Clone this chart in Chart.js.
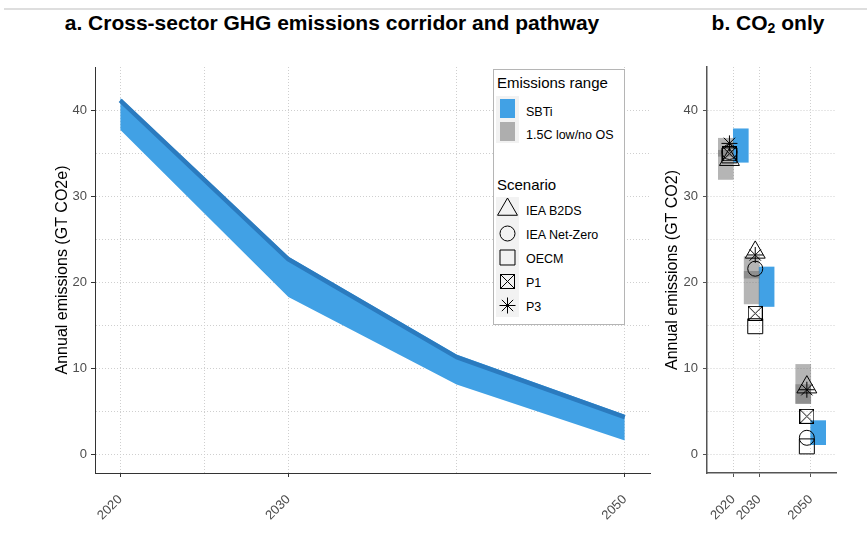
<!DOCTYPE html>
<html lang="en">
<head>
<meta charset="utf-8">
<title>Cross-sector GHG emissions corridor and pathway</title>
<script src="https://cdn.jsdelivr.net/npm/chart.js@4.4.1/dist/chart.umd.min.js"></script>
<style>
  html, body { margin: 0; padding: 0; background: #ffffff; }
  #figure { position: relative; width: 867px; height: 544px; overflow: hidden;
            font-family: "Liberation Sans", Arial, Helvetica, sans-serif; color: #000; }
  #rule { position: absolute; left: 4px; right: 0; top: 8px; height: 2px; background: #dedede; }
  .panel-title { position: absolute; top: 11px; font-size: 21px; font-weight: bold; line-height: 24px;
                 white-space: nowrap; transform: translateX(-50%); }
  .panel-title sub { font-size: 14px; vertical-align: -3px; line-height: 0; }
  canvas { position: absolute; top: 0; }
  #legend { position: absolute; left: 493px; top: 69px; width: 130px; height: 254px;
            border: 1px solid #b5b5b5; background: #fff; }
  #legend .lg-title { position: absolute; left: 3px; font-size: 15px; line-height: 18px; white-space: nowrap; }
  #legend .lg-key { position: absolute; left: 2px; }
  #legend .lg-label { position: absolute; left: 32px; font-size: 12.5px; line-height: 16px; white-space: nowrap; }
</style>
</head>
<body>
<div id="figure">
  <div id="rule"></div>
  <div class="panel-title" style="left:332px">a. Cross-sector GHG emissions corridor and pathway</div>
  <div class="panel-title" style="left:768px">b. CO<sub>2</sub> only</div>
  <canvas id="corridor" width="658" height="544" style="left:0"></canvas>
  <canvas id="co2" width="209" height="544" style="left:658px"></canvas>
  <div id="legend"></div>
</div>
<script>
// ---- Panel a: cross-sector GHG corridor and pathway (GT CO2e) ----
const pathwayYears = [2020, 2030, 2040, 2050];
const corridorLow  = [37.8, 18.3, 8.1, 1.6];
const corridorHigh = [41.5, 23.0, 11.6, 4.6];
const pathway      = [41.2, 22.7, 11.3, 4.3];

// ---- Panel b: CO2-only ranges and scenario values (GT CO2) ----
const rangeYears = [2020, 2030, 2050];
const rangeNames = ['SBTi', '1.5C low/no OS'];
const sbtiLow  = [34.0, 17.2, 1.1];
const sbtiHigh = [37.9, 21.8, 3.9];
// two overlapping 1.5C low/no-overshoot ranges (overlap shows darker)
const lowNoOsALow  = [32.0, 17.5, 5.9];
const lowNoOsAHigh = [35.4, 21.3, 8.1];
const lowNoOsBLow  = [34.7, 20.5, 5.9];
const lowNoOsBHigh = [36.8, 23.0, 10.45];

const scenarioNames = ['IEA B2DS', 'IEA Net-Zero', 'OECM', 'P1', 'P3'];
const ieaB2ds    = [34.3, 23.5, 7.8];
const ieaNetZero = [35.2, 21.6, 1.9];
const oecm       = [34.8, 14.9, 0.9];
const p1         = [35.0, 16.4, 4.4];
const p3         = [36.2, 23.2, 7.5];

// ---- Tick labels ----
const corridorYearTicks  = [2020, 2030, 2050];
const corridorMinorYears = [2025, 2040];
const co2YearTicks       = [2020, 2030, 2050];
const emissionTicks      = [0, 10, 20, 30, 40];
const emissionMinorTicks = [5, 15, 25, 35];

// ---- Styling ----
const sbtiBlue    = '#41a1e5';
const pathwayBlue = '#2b7bbf';
const rangeGrey   = 'rgba(100,100,100,0.48)';
const gridColour  = '#cfcfcf';
const keyGrey     = '#f2f2f2';
const dodge = 2.9;          // years either side of the tick for the range bars
const markerShift = -1.5;   // years, scenario markers sit just left of the tick

Chart.defaults.font.family = '"Liberation Sans", Arial, Helvetica, sans-serif';
Chart.defaults.animation = false;

const xy = (xs, ys, shift = 0) => xs.map((x, i) => ({ x: x + shift, y: ys[i] }));
const spans = (xs, lo, hi, shift) => xs.map((x, i) => ({ x: x + shift, y: [lo[i], hi[i]] }));

// square with an X, for the P1 scenario
function squareCross(size) {
  const c = document.createElement('canvas');
  c.width = size; c.height = size;
  const g = c.getContext('2d');
  g.strokeStyle = '#000'; g.lineWidth = 1;
  g.strokeRect(0.5, 0.5, size - 1, size - 1);
  g.beginPath();
  g.moveTo(0.5, 0.5); g.lineTo(size - 0.5, size - 0.5);
  g.moveTo(size - 0.5, 0.5); g.lineTo(0.5, size - 0.5);
  g.stroke();
  return c;
}

const scenarioValues = [ieaB2ds, ieaNetZero, oecm, p1, p3];
const scenarioStyles = [
  { pointStyle: 'triangle', radius: 11.5 },
  { pointStyle: 'circle', radius: 7.5 },
  { pointStyle: 'rect', radius: 10.6 },
  { pointStyle: squareCross(15), radius: 7.5 },
  { pointStyle: 'star', radius: 8 }
];

function yearAxis(min, max, labelled, minor, axisColour, axisWidth) {
  const all = labelled.concat(minor).sort((a, b) => a - b);
  return {
    type: 'linear', min, max, offset: false,
    afterBuildTicks: s => { s.ticks = all.map(v => ({ value: v })); },
    afterFit: s => { s.height = 71; },
    ticks: {
      autoSkip: false, minRotation: 45, maxRotation: 45, padding: 19,
      color: '#4d4d4d', font: { size: 13, lineHeight: 0.3 },
      callback: v => labelled.includes(v) ? String(v) : ''
    },
    grid: {
      offset: false, color: gridColour, lineWidth: 1, tickLength: 4,
      tickColor: c => (c.tick && labelled.includes(c.tick.value)) ? axisColour : 'rgba(0,0,0,0)'
    },
    border: { display: true, color: axisColour, width: axisWidth, dash: [1, 2] }
  };
}

function emissionAxis(title, width, titleOffset, labelPad, axisColour, axisWidth) {
  const all = emissionTicks.concat(emissionMinorTicks).sort((a, b) => a - b);
  return {
    type: 'linear', min: -2.2, max: 45.1,
    afterBuildTicks: s => { s.ticks = all.map(v => ({ value: v })); },
    afterFit: s => { s.width = width; },
    ticks: {
      padding: labelPad, color: '#4d4d4d', font: { size: 13 },
      callback: v => emissionTicks.includes(v) ? String(v) : ''
    },
    grid: {
      color: gridColour, lineWidth: 1, tickLength: 4,
      tickColor: c => (c.tick && emissionTicks.includes(c.tick.value)) ? axisColour : 'rgba(0,0,0,0)'
    },
    border: { display: true, color: axisColour, width: axisWidth, dash: [1, 2] },
    title: { display: true, text: title, color: '#000', font: { size: 16 }, padding: { top: titleOffset, bottom: 0 } }
  };
}

const quiet = { legend: { display: false }, title: { display: false }, tooltip: { enabled: false } };

// Panel a
new Chart(document.getElementById('corridor'), {
  type: 'line',
  data: {
    datasets: [
      { label: 'Corridor lower bound', data: xy(pathwayYears, corridorLow),
        borderColor: 'rgba(0,0,0,0)', borderWidth: 0, pointRadius: 0, fill: false, order: 1 },
      { label: 'SBTi corridor', data: xy(pathwayYears, corridorHigh),
        borderColor: 'rgba(0,0,0,0)', borderWidth: 0, pointRadius: 0, fill: '-1',
        backgroundColor: sbtiBlue, order: 1 },
      { label: 'SBTi pathway', data: xy(pathwayYears, pathway),
        borderColor: pathwayBlue, borderWidth: 4.5, pointRadius: 0, fill: false,
        borderJoinStyle: 'round', borderCapStyle: 'butt', order: 0 }
    ]
  },
  options: {
    responsive: false, events: [],
    layout: { padding: { top: 67, right: 8, bottom: 0, left: 0 } },
    elements: { line: { tension: 0 } },
    plugins: quiet,
    scales: {
      x: yearAxis(2018.5, 2051.5, corridorYearTicks, corridorMinorYears, '#333333', 1),
      y: emissionAxis('Annual emissions (GT CO2e)', 95, 53.4, 4, '#333333', 1)
    }
  }
});

// Panel b
const co2Datasets = [
  { type: 'bar', label: rangeNames[1], data: spans(rangeYears, lowNoOsALow, lowNoOsAHigh, -dodge),
    backgroundColor: rangeGrey, borderWidth: 0, grouped: false, barThickness: 15, order: 2 },
  { type: 'bar', label: rangeNames[1], data: spans(rangeYears, lowNoOsBLow, lowNoOsBHigh, -dodge),
    backgroundColor: rangeGrey, borderWidth: 0, grouped: false, barThickness: 15, order: 2 },
  { type: 'bar', label: rangeNames[0], data: spans(rangeYears, sbtiLow, sbtiHigh, dodge),
    backgroundColor: sbtiBlue, borderWidth: 0, grouped: false, barThickness: 15, order: 2 }
];
scenarioNames.forEach((name, k) => {
  co2Datasets.push({
    type: 'scatter', label: name, data: xy(rangeYears, scenarioValues[k], markerShift),
    pointStyle: scenarioStyles[k].pointStyle, pointRadius: scenarioStyles[k].radius,
    pointBackgroundColor: 'rgba(0,0,0,0)', pointBorderColor: '#000', pointBorderWidth: 1,
    order: 1
  });
});

new Chart(document.getElementById('co2'), {
  type: 'bar',
  data: { datasets: co2Datasets },
  options: {
    responsive: false, events: [],
    layout: { padding: { top: 67, right: 31, bottom: 0, left: 0 } },
    plugins: quiet,
    scales: {
      x: yearAxis(2009.8, 2059.8, co2YearTicks, [], '#555555', 1.5),
      y: emissionAxis('Annual emissions (GT CO2)', 49, 5.4, 5, '#555555', 1.5)
    }
  }
});

// Legend (two groups: emissions range, scenario)
(function buildLegend() {
  const box = document.getElementById('legend');
  const add = (cls, text, top) => {
    const d = document.createElement('div');
    d.className = cls; d.textContent = text; d.style.top = top + 'px';
    box.appendChild(d);
    return d;
  };
  add('lg-title', 'Emissions range', 4);
  const rangeFills = [sbtiBlue, rangeGrey];
  rangeNames.forEach((name, i) => {
    const top = 26 + 23.5 * i;
    const key = document.createElement('div');
    key.className = 'lg-key';
    key.style.cssText = `top:${top}px;width:23px;height:23.5px;background:${keyGrey};`;
    const fill = document.createElement('div');
    fill.style.cssText = `position:absolute;left:4px;top:2.5px;width:15px;height:19px;background:${rangeFills[i]};`;
    key.appendChild(fill);
    box.appendChild(key);
    add('lg-label', name, top + 7.5);
  });

  add('lg-title', 'Scenario', 106);
  scenarioNames.forEach((name, i) => {
    const top = 127 + 24 * i;
    const c = document.createElement('canvas');
    c.width = 23; c.height = 24;
    c.className = 'lg-key';
    c.style.position = 'absolute';
    c.style.top = top + 'px';
    const g = c.getContext('2d');
    g.fillStyle = keyGrey; g.fillRect(0, 0, 23, 24);
    g.fillStyle = 'rgba(0,0,0,0)'; g.strokeStyle = '#000'; g.lineWidth = 1;
    Chart.helpers.drawPoint(g, { pointStyle: scenarioStyles[i].pointStyle, radius: scenarioStyles[i].radius,
                                 rotation: 0, borderWidth: 1 }, 11.5, 12.5);
    box.appendChild(c);
    add('lg-label', name, top + 5.5);
  });
})();
</script>
</body>
</html>
